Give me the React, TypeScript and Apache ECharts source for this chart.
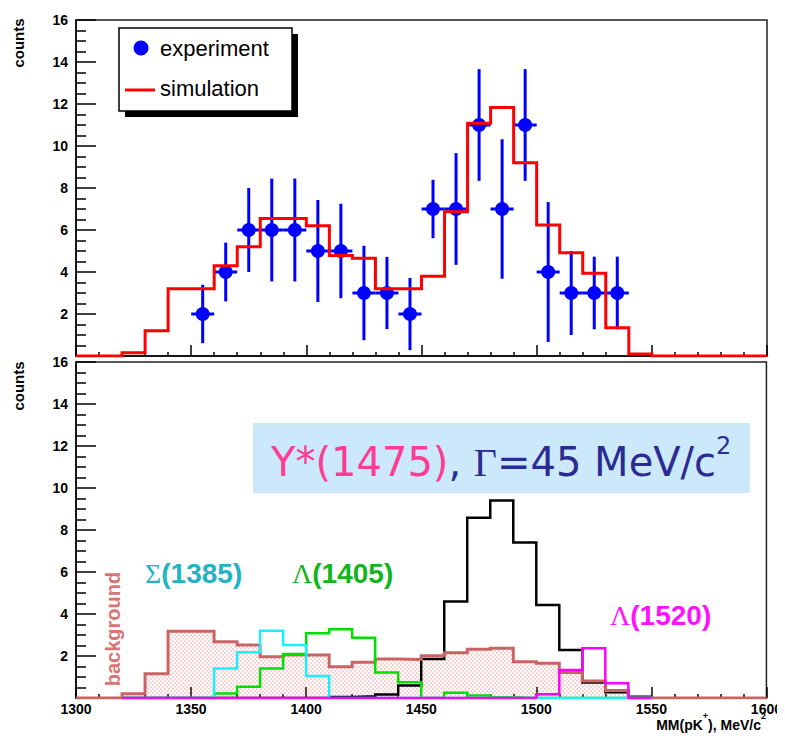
import { useEffect, useRef } from 'react';
import * as echarts from 'echarts';

// Bin edges of the missing-mass histograms (MeV/c^2), 10 MeV bins
const binEdges = [
  1300, 1310, 1320, 1330, 1340, 1350, 1360, 1370, 1380, 1390,
  1400, 1410, 1420, 1430, 1440, 1450, 1460, 1470, 1480, 1490,
  1500, 1510, 1520, 1530, 1540, 1550, 1560, 1570, 1580, 1590, 1600,
];

// Upper pad: full simulation (one value per bin)
const simulation = [
  0, 0, 0.15, 1.2, 3.2, 3.2, 4.3, 5.2, 6.55, 6.55,
  6.2, 4.78, 4.65, 3.2, 3.2, 3.8, 6.87, 11.08, 11.83, 9.2,
  6.24, 4.92, 3.94, 1.35, 0.1, 0, 0, 0, 0, 0,
];

// Upper pad: measured counts at bin centres with their errors
const expMass = [1355, 1365, 1375, 1385, 1395, 1405, 1415, 1425, 1435, 1445, 1455, 1465, 1475, 1485, 1495, 1505, 1515, 1525, 1535];
const expCounts = [2, 4, 6, 6, 6, 5, 5, 3, 3, 2, 7, 7, 11, 7, 11, 4, 3, 3, 3];
const expErrors = [1.39, 1.4, 2.0, 2.45, 2.45, 2.43, 2.25, 2.25, 1.72, 1.72, 1.39, 2.66, 2.66, 3.32, 2.66, 3.33, 2.0, 1.73, 1.73];
const halfBin = 5;

// Lower pad: simulated contributions (one value per bin)
const background = [
  0, 0, 0.2, 1.15, 3.18, 3.18, 2.68, 2.52, 1.97, 2.05,
  2.05, 1.49, 1.7, 1.86, 1.83, 2.01, 2.16, 2.32, 2.37, 1.73,
  1.65, 1.22, 0.81, 0.36, 0, 0, 0, 0, 0, 0,
];
const sigma1385 = [
  0, 0, 0, 0, 0, 0, 1.41, 2.18, 3.2, 2.52,
  1.05, 0, 0, 0, 0, 0, 0, 0, 0, 0,
  0, 0, 0, 0, 0, 0, 0, 0, 0, 0,
];
const lambda1405 = [
  0, 0, 0, 0, 0, 0, 0.22, 0.54, 1.41, 2.1,
  3.08, 3.27, 2.87, 1.22, 0.75, 0, 0.25, 0.12, 0.03, 0,
  0, 0, 0, 0, 0, 0, 0, 0, 0, 0,
];
const ystar1475 = [
  0, 0, 0, 0, 0, 0, 0, 0, 0, 0,
  0, 0.05, 0.08, 0.17, 0.6, 1.86, 4.6, 8.58, 9.4, 7.41,
  4.43, 2.29, 0.74, 0.27, 0.06, 0, 0, 0, 0, 0,
];
const lambda1520 = [
  0, 0, 0, 0, 0, 0, 0, 0, 0, 0,
  0, 0, 0, 0, 0, 0, 0, 0, 0, 0,
  0.18, 1.33, 2.37, 0.7, 0, 0, 0, 0, 0, 0,
];

const SANS = '"Liberation Sans", Arial, Helvetica, sans-serif';
const SERIF = '"Liberation Serif", "DejaVu Serif", serif';
const ROUND = '"DejaVu Sans", sans-serif';

// Outline points of a histogram drawn between two bin edges
function histPoints(values: number[], from: number, to: number): number[][] {
  const pts: number[][] = [];
  let last = 0;
  for (let i = 0; i < values.length; i++) {
    const lo = binEdges[i];
    if (lo < from || lo >= to) continue;
    pts.push([lo, values[i]]);
    last = values[i];
  }
  pts.push([to, last]);
  return pts;
}

const dotTile =
  'data:image/svg+xml;charset=utf-8,' +
  encodeURIComponent(
    '<svg xmlns="http://www.w3.org/2000/svg" width="4" height="4">' +
      '<rect x="0.5" y="0.5" width="1" height="1" fill="#e25858"/>' +
      '<rect x="2.5" y="2.5" width="1" height="1" fill="#e25858"/>' +
      '</svg>'
  );

function valueAxisY(gridIndex: number) {
  return {
    type: 'value',
    gridIndex,
    min: 0,
    max: 16,
    interval: 2,
    axisLine: { show: true, lineStyle: { color: '#000', width: 1.5 } },
    axisTick: { show: true, inside: true, length: 20, lineStyle: { color: '#000', width: 1.5 } },
    minorTick: { show: true, splitNumber: 4, length: 10, lineStyle: { color: '#000', width: 1.5 } },
    splitLine: { show: false },
    axisLabel: {
      margin: 8,
      color: '#000',
      fontFamily: SANS,
      fontWeight: 'bold',
      fontSize: 14,
      formatter: (v: number) => (v === 0 ? '' : String(v)),
    },
  };
}

function massAxisX(gridIndex: number, showLabels: boolean) {
  return {
    type: 'value',
    gridIndex,
    min: 1300,
    max: 1600,
    interval: 50,
    axisLine: { show: true, onZero: false, lineStyle: { color: '#000', width: 1.5 } },
    axisTick: { show: true, inside: true, length: 11, lineStyle: { color: '#000', width: 1.5 } },
    minorTick: { show: true, splitNumber: 5, length: 4, lineStyle: { color: '#000', width: 1.5 } },
    splitLine: { show: false },
    axisLabel: {
      show: showLabels,
      margin: 4,
      color: '#000',
      fontFamily: SANS,
      fontWeight: 'bold',
      fontSize: 14,
      formatter: (v: number) => String(v),
    },
  };
}

function stepLine(name: string, data: number[][], color: string, width: number, gridIdx: number, extra: any = {}) {
  return {
    type: 'line',
    name,
    xAxisIndex: gridIdx,
    yAxisIndex: gridIdx,
    data,
    step: 'end',
    symbol: 'none',
    showSymbol: false,
    silent: true,
    lineStyle: { color, width, join: 'miter' },
    ...extra,
  };
}

export default function App() {
  const ref = useRef<HTMLDivElement>(null);

  useEffect(() => {
    if (!ref.current) return;
    const chart = echarts.init(ref.current, undefined, { renderer: 'svg' });

    const expData = expMass.map((m, i) => [m, expCounts[i], expErrors[i]]);

    const option: any = {
      animation: false,
      backgroundColor: '#fff',
      grid: [
        { left: 76, top: 20, width: 691, height: 336, show: true, borderColor: '#222', borderWidth: 1.5, backgroundColor: '#fff' },
        { left: 76, top: 362, width: 691, height: 336, show: true, borderColor: '#222', borderWidth: 1.5, backgroundColor: '#fff' },
      ],
      xAxis: [massAxisX(0, false), massAxisX(1, true)],
      yAxis: [valueAxisY(0), valueAxisY(1)],
      series: [
        {
          type: 'custom',
          name: 'experiment',
          xAxisIndex: 0,
          yAxisIndex: 0,
          data: expData,
          encode: { x: 0, y: 1 },
          silent: true,
          z: 2,
          renderItem: (_params: any, api: any) => {
            const x = api.value(0);
            const y = api.value(1);
            const e = api.value(2);
            const c = api.coord([x, y]);
            const top = api.coord([x, y + e]);
            const bot = api.coord([x, y - e]);
            const l = api.coord([x - halfBin, y]);
            const r = api.coord([x + halfBin, y]);
            const st = { stroke: '#0000ff', lineWidth: 3 };
            return {
              type: 'group',
              children: [
                { type: 'line', shape: { x1: c[0], y1: top[1], x2: c[0], y2: bot[1] }, style: st },
                { type: 'line', shape: { x1: l[0], y1: c[1], x2: r[0], y2: c[1] }, style: st },
                { type: 'circle', shape: { cx: c[0], cy: c[1], r: 7 }, style: { fill: '#0000ff' } },
              ],
            };
          },
        },
        stepLine('simulation', histPoints(simulation, 1300, 1600), '#ff0000', 3, 0, { z: 3 }),
        stepLine('Y*(1475)', histPoints(ystar1475, 1320, 1550), '#000000', 2.5, 1),
        stepLine('background', histPoints(background, 1300, 1600), '#c86464', 3, 1, {
          areaStyle: {
            color: { image: dotTile, repeat: 'repeat', imageWidth: 4, imageHeight: 4 },
            opacity: 1,
          },
        }),
        stepLine('Λ(1405)', histPoints(lambda1405, 1320, 1550), '#00e000', 2.5, 1),
        stepLine('Σ(1385)', histPoints(sigma1385, 1320, 1550), '#19f0ff', 2.5, 1),
        stepLine('Λ(1520)', histPoints(lambda1520, 1320, 1550), '#ff00ff', 2.5, 1),
      ],
      graphic: [
        // legend of the upper pad
        { type: 'rect', z: 100, shape: { x: 125, y: 34, width: 173, height: 83 }, style: { fill: '#000' } },
        { type: 'rect', z: 101, shape: { x: 119, y: 28, width: 173, height: 83 }, style: { fill: '#fff', stroke: '#000', lineWidth: 1.5 } },
        { type: 'circle', z: 102, shape: { cx: 141, cy: 48, r: 7.5 }, style: { fill: '#0000ff' } },
        { type: 'line', z: 102, shape: { x1: 125, y1: 90, x2: 155, y2: 90 }, style: { stroke: '#ff0000', lineWidth: 3 } },
        { type: 'text', z: 102, x: 160, y: 48, style: { text: 'experiment', fill: '#000', font: `22px ${SANS}`, verticalAlign: 'middle' } },
        { type: 'text', z: 102, x: 160, y: 88, style: { text: 'simulation', fill: '#000', font: `22px ${SANS}`, verticalAlign: 'middle' } },

        // y axis titles
        { type: 'text', z: 100, x: 18, y: 43, rotation: Math.PI / 2, style: { text: 'counts', fill: '#000', font: `bold 15px ${SANS}`, align: 'center', verticalAlign: 'middle' } },
        { type: 'text', z: 100, x: 18, y: 386, rotation: Math.PI / 2, style: { text: 'counts', fill: '#000', font: `bold 15px ${SANS}`, align: 'center', verticalAlign: 'middle' } },
        // upper pad overlapping the lower pad's top label
        { type: 'rect', z: 100, shape: { x: 40, y: 345, width: 34, height: 12 }, style: { fill: '#fff' } },

        // x axis title
        {
          type: 'text', z: 100, x: 766, y: 732,
          style: {
            text: '{m|MM(pK}{u|+}{m|), MeV/c}{u|2}',
            align: 'right',
            verticalAlign: 'bottom',
            rich: {
              m: { fontFamily: SANS, fontWeight: 'bold', fontSize: 14, fill: '#000', lineHeight: 21, verticalAlign: 'bottom' },
              u: { fontFamily: SANS, fontWeight: 'bold', fontSize: 9, fill: '#000', lineHeight: 21, verticalAlign: 'top' },
            },
          },
        },

        // model box
        { type: 'rect', z: 100, shape: { x: 253, y: 423, width: 497, height: 70 }, style: { fill: '#cbe9fb' } },
        {
          type: 'text', z: 101, x: 271, y: 458,
          style: {
            text: '{p|Y*(1475)}{d|, }{g|Γ}{d|=45 MeV/c}{s|2}',
            verticalAlign: 'middle',
            rich: {
              p: { fontFamily: ROUND, fontSize: 40, fill: '#ff3c94', lineHeight: 48, verticalAlign: 'bottom' },
              d: { fontFamily: ROUND, fontSize: 40, fill: '#2b2b92', lineHeight: 48, verticalAlign: 'bottom' },
              g: { fontFamily: SERIF, fontSize: 40, fill: '#2b2b92', lineHeight: 48, verticalAlign: 'bottom' },
              s: { fontFamily: ROUND, fontSize: 24, fill: '#2b2b92', lineHeight: 48, verticalAlign: 'top' },
            },
          },
        },

        // component labels
        {
          type: 'text', z: 100, x: 145, y: 573,
          style: {
            text: '{g|Σ}{n|(1385)}', verticalAlign: 'middle',
            rich: {
              g: { fontFamily: SERIF, fontSize: 28, fill: '#22b4c4' },
              n: { fontFamily: SANS, fontWeight: 'bold', fontSize: 28, fill: '#22b4c4' },
            },
          },
        },
        {
          type: 'text', z: 100, x: 292, y: 573,
          style: {
            text: '{g|Λ}{n|(1405)}', verticalAlign: 'middle',
            rich: {
              g: { fontFamily: SERIF, fontSize: 28, fill: '#14b41e' },
              n: { fontFamily: SANS, fontWeight: 'bold', fontSize: 28, fill: '#14b41e' },
            },
          },
        },
        {
          type: 'text', z: 100, x: 610, y: 615,
          style: {
            text: '{g|Λ}{n|(1520)}', verticalAlign: 'middle',
            rich: {
              g: { fontFamily: SERIF, fontSize: 28, fill: '#ff10ff' },
              n: { fontFamily: SANS, fontWeight: 'bold', fontSize: 28, fill: '#ff10ff' },
            },
          },
        },
        {
          type: 'text', z: 100, x: 113, y: 629, rotation: Math.PI / 2,
          style: { text: 'background', fill: '#d87474', font: `bold 20px ${SANS}`, align: 'center', verticalAlign: 'middle' },
        },
      ],
    };

    chart.setOption(option);
    return () => chart.dispose();
  }, []);

  return <div ref={ref} style={{ width: 785, height: 736, marginLeft: -8, marginTop: -8 }} />;
}
